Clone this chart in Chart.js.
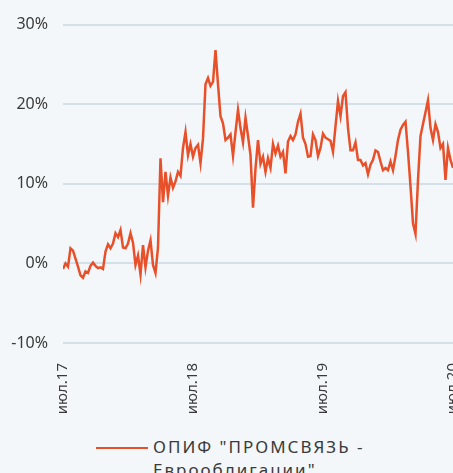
<!DOCTYPE html>
<html>
<head>
<meta charset="utf-8">
<script src="https://cdn.jsdelivr.net/npm/chart.js@4"></script>
<style>
  html, body { margin: 0; padding: 0; background: #f3f7fa; overflow: hidden; }
  #wrap { position: relative; width: 453px; height: 473px; overflow: hidden; }
  #leyenda { position: absolute; left: 96px; top: 435px; display: flex; align-items: flex-start;
    font-family: "Noto Sans", sans-serif; font-size: 17px; letter-spacing: 2px; line-height: 23px;
    color: #3a3a3a; white-space: nowrap; }
  #leyenda .linea { width: 52px; height: 2px; background: #e8502a; margin-top: 12px; margin-right: 5px; }
</style>
</head>
<body>
<div id="wrap">
  <canvas id="chart1" width="483" height="430"></canvas>
  <div id="leyenda"><span class="linea"></span><span id="nombreSerie"></span></div>
</div>
<script>
// Weekly return of the fund, % (июл.2017 - июл.2020)
const valores = [
  -0.7, 0.0, -0.4, 1.9, 1.6, 0.6, -0.4, -1.5, -1.8, -1.0,
  -1.2, -0.3, 0.1, -0.3, -0.6, -0.5, -0.7, 1.5, 2.4, 1.9,
  2.5, 3.8, 3.3, 4.2, 2.0, 1.9, 2.5, 3.8, 2.6, -0.2,
  1.0, -1.4, 2.3, -0.5, 1.6, 2.9, -0.2, -1.2, 2.0, 13.2,
  7.7, 11.5, 8.5, 10.8, 9.5, 10.3, 11.5, 11.0, 14.5, 16.5,
  13.6, 15.0, 13.4, 14.5, 14.9, 12.6, 15.7, 22.5, 23.3, 22.3,
  22.8, 26.8, 22.5, 18.5, 17.6, 15.5, 15.8, 16.2, 13.5, 16.5,
  19.3, 17.0, 15.2, 18.3, 16.0, 13.6, 7.0, 11.9, 15.5, 12.5,
  13.4, 11.5, 13.2, 12.0, 15.0, 13.8, 14.8, 13.4, 14.0, 11.3,
  15.3, 16.0, 15.5, 16.2, 17.8, 18.8, 15.8, 15.0, 13.4, 13.5,
  16.2, 15.5, 13.5, 14.5, 16.3, 15.8, 15.6, 15.4, 14.0, 17.2,
  20.4, 18.5, 21.0, 21.5, 17.0, 14.2, 14.2, 15.2, 13.0, 13.0,
  12.3, 12.6, 11.2, 12.4, 13.0, 14.2, 14.0, 12.8, 11.7, 12.0,
  11.7, 12.8, 11.7, 13.5, 15.5, 16.8, 17.4, 17.8, 14.0, 9.7,
  5.0, 3.7, 10.5, 16.0, 17.5, 19.0, 20.5, 17.0, 15.5, 17.5,
  16.5, 14.5, 15.0, 10.5, 14.5, 13.0, 12.0
];
const etiquetasX = ["июл.17", "июл.18", "июл.19", "июл.20"];
const ticksY = [-10, 0, 10, 20, 30];
const nombreSerie = 'ОПИФ "ПРОМСВЯЗЬ -\nЕврооблигации"';

document.getElementById("nombreSerie").innerText = nombreSerie;

const semanasPorAnio = 52;
const fuente = { family: "Noto Sans", size: 15 };

new Chart("chart1", {
  type: "line",
  data: {
    datasets: [{
      label: nombreSerie,
      data: valores.map(function (v, i) { return { x: i, y: v }; }),
      borderColor: "#e8502a",
      borderWidth: 2.5,
      pointRadius: 0,
      tension: 0
    }]
  },
  options: {
    responsive: false,
    animation: false,
    layout: { padding: { top: 10, left: 0, right: 0, bottom: 0 } },
    plugins: { legend: { display: false }, tooltip: { enabled: false } },
    scales: {
      x: {
        type: "linear",
        min: 0,
        max: semanasPorAnio * (etiquetasX.length - 1),
        afterBuildTicks: function (scale) {
          scale.ticks = etiquetasX.map(function (t, i) { return { value: i * semanasPorAnio }; });
        },
        afterFit: function (scale) { scale.height = 87; },
        grid: { display: false },
        border: { display: false },
        ticks: {
          autoSkip: false,
          minRotation: 90,
          maxRotation: 90,
          padding: 12,
          color: "#3a3a3a",
          font: fuente,
          callback: function (v) { return etiquetasX[Math.round(v / semanasPorAnio)]; }
        }
      },
      y: {
        min: ticksY[0],
        max: ticksY[ticksY.length - 1],
        afterBuildTicks: function (scale) {
          scale.ticks = ticksY.map(function (v) { return { value: v }; });
        },
        afterFit: function (scale) { scale.width = 63; },
        grid: { color: "#d3e0e9", lineWidth: 2, drawTicks: false },
        border: { display: false },
        ticks: {
          padding: 15,
          color: "#3a3a3a",
          font: { family: "Noto Sans", size: 16 },
          callback: function (v) { return v + "%"; }
        }
      }
    }
  }
});
</script>
</body>
</html>
